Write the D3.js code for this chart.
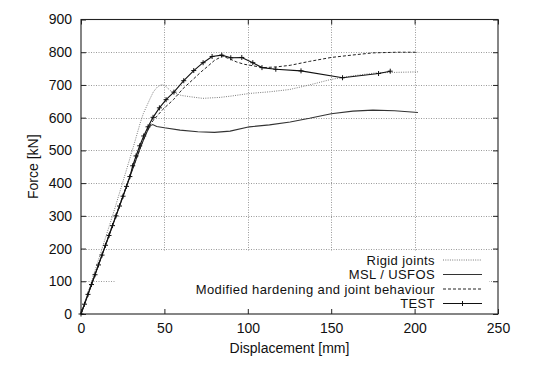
<!DOCTYPE html>
<html>
<head>
<meta charset="utf-8">
<script src="https://cdn.jsdelivr.net/npm/d3@7"></script>
<style>
html,body{margin:0;padding:0;background:#fff;}
svg{display:block;font-family:"Liberation Sans",Arial,Helvetica,sans-serif;}
</style>
</head>
<body>
<svg id="chart" width="548" height="375"></svg>
<script>
const xTicks = [0, 50, 100, 150, 200, 250];
const yTicks = [0, 100, 200, 300, 400, 500, 600, 700, 800, 900];
const seriesNames = ["Rigid joints", "MSL / USFOS", "Modified hardening and joint behaviour", "TEST"];

const rigidX = [0, 10, 20, 25.4, 31.4, 35.4, 37.4, 41.4, 43.4, 46, 48.4, 50.5, 54.4, 60, 65.4, 73, 83.4, 90, 101, 113, 125, 137, 150, 163, 177, 202];
const rigidY = [0, 158, 318, 409, 511, 582, 613, 658, 679, 695, 701, 697, 679, 668, 664, 659, 662, 666, 674, 679, 686, 700, 717, 728, 737, 740];

const mslX = [0, 20, 30, 36, 39.4, 41.4, 43, 45.4, 50, 59.4, 70, 80, 89.4, 101, 113, 125.4, 137, 150, 163, 175, 188, 202];
const mslY = [0, 286, 429, 514, 555, 575, 579, 573, 569, 562, 557, 555, 559, 572, 578, 587, 598, 612, 620, 623, 621, 616];

const modX = [0, 20, 30, 37, 41, 43.4, 49, 55.4, 61, 67.4, 72, 76, 80, 84.8, 89, 93.4, 98, 101.4, 109.4, 117, 125.4, 137, 150, 162, 175, 190, 202];
const modY = [0, 288, 431, 527, 575, 592, 625, 655, 688, 718, 740, 757, 775, 788, 780, 770, 763, 760, 753, 755, 760, 772, 784, 791, 798, 800, 800];

const testX = [0, 2.1, 4.2, 6.3, 8.4, 10.5, 12.6, 14.7, 16.8, 18.9, 21, 23.1, 25.2, 27.3, 29.3, 31, 33, 35.2, 37.6, 40.2, 43.2, 47, 51, 55.7, 61.6, 67.6, 73.2, 78.6, 84.4, 89.8, 96.4, 103, 108.5, 116.8, 131.9, 156.8, 178.4, 185.4];
const testY = [0, 30, 60, 90, 120, 150, 180, 210, 240, 270, 300, 330, 360, 390, 420, 453, 483, 514, 544, 572, 601, 630, 655, 678, 713, 744, 768, 787, 791, 783, 784, 768, 753, 748, 743, 722, 735, 742];

const L = 81, R = 498, T = 19.5, B = 314;
const svg = d3.select("#chart");
const x = d3.scaleLinear().domain([0, 250]).range([L, R]);
const y = d3.scaleLinear().domain([0, 900]).range([B, T]);

const font = 14;
const axisCol = "#222";

// grid
const grid = svg.append("g").attr("stroke", "#9a9a9a").attr("stroke-width", 1).attr("stroke-dasharray", "1,1.5");
grid.selectAll("line.v").data(xTicks.filter(d => d > 0 && d < 250)).enter().append("line")
  .attr("x1", d => Math.round(x(d)) + 0.5).attr("x2", d => Math.round(x(d)) + 0.5)
  .attr("y1", T).attr("y2", B);
grid.selectAll("line.h").data(yTicks.filter(d => d > 0 && d < 900)).enter().append("line")
  .attr("y1", d => Math.round(y(d)) + 0.5).attr("y2", d => Math.round(y(d)) + 0.5)
  .attr("x1", L).attr("x2", R);

// key background (erases grid)
svg.append("rect").attr("x", 115).attr("y", 251).attr("width", 489 - 115).attr("height", B - 251 - 1).attr("fill", "#fff");

// axes with inward ticks on all sides
const tickLen = 5;
const axB = svg.append("g").attr("transform", `translate(0,${B})`)
  .call(d3.axisBottom(x).tickValues(xTicks).tickSizeInner(-tickLen).tickSizeOuter(0).tickPadding(9));
const axT = svg.append("g").attr("transform", `translate(0,${T})`)
  .call(d3.axisTop(x).tickValues(xTicks).tickSizeInner(-tickLen).tickSizeOuter(0).tickFormat(""));
const axL = svg.append("g").attr("transform", `translate(${L},0)`)
  .call(d3.axisLeft(y).tickValues(yTicks).tickSizeInner(-tickLen).tickSizeOuter(0).tickPadding(9));
const axR = svg.append("g").attr("transform", `translate(${R},0)`)
  .call(d3.axisRight(y).tickValues(yTicks).tickSizeInner(-tickLen).tickSizeOuter(0).tickFormat(""));
[axB, axT, axL, axR].forEach(a => {
  a.select(".domain").remove();
  a.selectAll("line").attr("stroke", axisCol);
  a.selectAll("text").attr("fill", "#111").style("font-size", font + "px").style("font-family", "'Liberation Sans',Arial,sans-serif");
});
axB.selectAll("text").attr("dy", "0.71em");

// border
svg.append("rect").attr("x", L).attr("y", T).attr("width", R - L).attr("height", B - T)
  .attr("fill", "none").attr("stroke", axisCol).attr("stroke-width", 1.1);

// series
const line = d3.line().x(d => x(d[0])).y(d => y(d[1]));
const zip = (a, b) => a.map((v, i) => [v, b[i]]);
const styles = [
  {data: zip(rigidX, rigidY), stroke: "#7a7a7a", width: 1, dash: "1,1.3"},
  {data: zip(mslX, mslY), stroke: "#333", width: 1.1, dash: null},
  {data: zip(modX, modY), stroke: "#222", width: 1, dash: "3,2"},
  {data: zip(testX, testY), stroke: "#111", width: 1.1, dash: null, marker: true}
];
styles.forEach(s => {
  svg.append("path").datum(s.data).attr("d", line).attr("fill", "none")
    .attr("stroke", s.stroke).attr("stroke-width", s.width)
    .attr("stroke-dasharray", s.dash);
  if (s.marker) {
    svg.append("g").selectAll("path").data(s.data).enter().append("path")
      .attr("d", d => { const px = x(d[0]), py = y(d[1]), m = 2.5; return `M${px - m},${py}H${px + m}M${px},${py - m}V${py + m}`; })
      .attr("stroke", s.stroke).attr("stroke-width", 1);
  }
});

// legend
const legX = 435, legY0 = 260, legDy = 14.5, legFont = 13;
seriesNames.forEach((n, i) => {
  const yy = legY0 + i * legDy;
  svg.append("text").attr("x", legX).attr("y", yy).attr("dy", "0.35em").attr("text-anchor", "end")
    .style("font-size", legFont + "px").style("letter-spacing", "0.4px").attr("fill", "#111").text(n);
  const s = styles[i];
  svg.append("line").attr("x1", 443).attr("x2", 482).attr("y1", yy).attr("y2", yy)
    .attr("stroke", s.stroke).attr("stroke-width", s.width).attr("stroke-dasharray", s.dash);
  if (s.marker) {
    svg.append("path").attr("d", `M${462.5 - 2.5},${yy}H${462.5 + 2.5}M${462.5},${yy - 2.5}V${yy + 2.5}`)
      .attr("stroke", s.stroke).attr("stroke-width", 1);
  }
});

// axis titles
svg.append("text").attr("x", (L + R) / 2).attr("y", 348).attr("dy", "0.35em").attr("text-anchor", "middle")
  .style("font-size", font + "px").attr("fill", "#111").text("Displacement [mm]");
svg.append("text").attr("transform", `translate(33,${(T + B) / 2}) rotate(-90)`).attr("dy", "0.35em")
  .attr("text-anchor", "middle").style("font-size", font + "px").attr("fill", "#111").text("Force [kN]");
</script>
</body>
</html>
